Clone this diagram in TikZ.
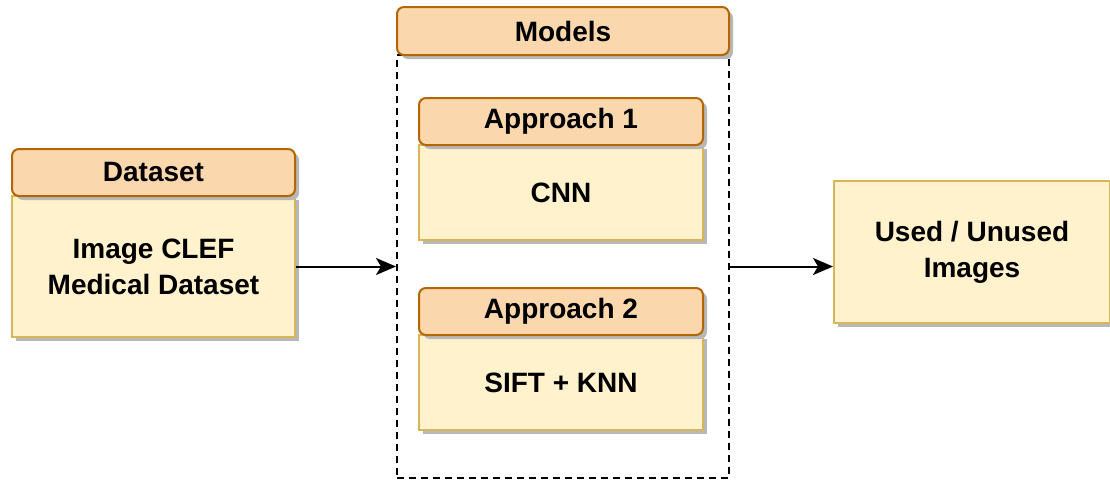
\documentclass[tikz,border=0pt]{standalone}
\usepackage{fontspec}
\setmainfont{Liberation Sans}
\usetikzlibrary{arrows.meta,shadows}
\definecolor{hdrfill}{HTML}{FAD7AC}
\definecolor{hdrline}{HTML}{B46504}
\definecolor{bodyfill}{HTML}{FFF2CC}
\definecolor{bodyline}{HTML}{D6B656}
\begin{document}
\begin{tikzpicture}[x=1pt,y=-1pt,
  txt/.style={font=\fontsize{28}{36}\selectfont\bfseries, align=center},
  shade/.style={drop shadow={shadow xshift=4pt, shadow yshift=-4pt, fill=black!28, opacity=1}},
  hdr/.style={txt, shade, draw=hdrline, fill=hdrfill, line width=2pt, rounded corners=7pt, inner sep=0pt},
  bodybox/.style={txt, shade, draw=bodyline, fill=bodyfill, line width=2pt, inner sep=0pt},
  group/.style={draw=black, line width=2pt, dash pattern=on 7pt off 5pt, inner sep=0pt},
  flow/.style={line width=2pt, -{Stealth[length=20pt,width=17pt,inset=5pt]}}
]
\path[use as bounding box] (0,0) rectangle (1110,479);

% Dataset
\node[bodybox, minimum width=283pt, minimum height=141pt] (dsbody) at (153.5,266.5) {Image CLEF\\Medical Dataset};
\node[hdr, minimum width=283pt, minimum height=47pt] (dshead) at (153.5,172.5) {Dataset};

% Models group
\node[group, minimum width=332pt, minimum height=423pt] (models) at (563,266.5) {};
\node[hdr, minimum width=332pt, minimum height=48pt] (modhead) at (563,31) {Models};

% Approach 1
\node[bodybox, minimum width=284pt, minimum height=95pt] (a1body) at (561,192.5) {CNN};
\node[hdr, minimum width=284pt, minimum height=47pt] (a1head) at (561,121.5) {Approach 1};

% Approach 2
\node[bodybox, minimum width=284pt, minimum height=95pt] (a2body) at (561,382.5) {SIFT + KNN};
\node[hdr, minimum width=284pt, minimum height=47pt] (a2head) at (561,311.5) {Approach 2};

% Output
\node[bodybox, minimum width=276pt, minimum height=142pt] (out) at (972,252) {Used / Unused\\Images};

% Connectors
\draw[flow] (dsbody.east) -- (models.west);
\draw[flow] (models.east) -- (models.east -| out.west);
\end{tikzpicture}
\end{document}
